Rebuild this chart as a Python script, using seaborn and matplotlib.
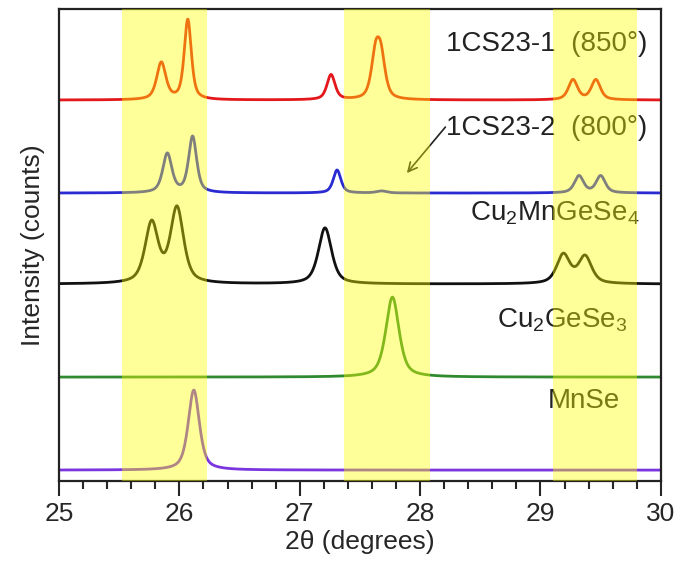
import numpy as np
import pandas as pd
import matplotlib
matplotlib.use("Agg")
import matplotlib.pyplot as plt
import seaborn as sns

# Peak lists (2-theta position, height above baseline, FWHM) for each pattern
cs1_pos = [25.85, 26.07, 27.26, 27.63, 27.675, 29.27, 29.46]
cs1_height = [37, 80, 25, 41, 38, 20, 20]
cs1_fwhm = [0.09, 0.07, 0.08, 0.085, 0.085, 0.09, 0.09]

cs2_pos = [25.90, 26.11, 27.31, 27.68, 29.32, 29.50]
cs2_height = [39, 56, 23, 2, 17, 17]
cs2_fwhm = [0.09, 0.08, 0.075, 0.10, 0.09, 0.09]

cmgs_pos = [25.77, 25.98, 27.21, 29.19, 29.37]
cmgs_height = [60, 75, 56, 29, 27]
cmgs_fwhm = [0.13, 0.13, 0.13, 0.13, 0.13]

cgs_pos = [27.77]
cgs_height = [80]
cgs_fwhm = [0.13]

mnse_pos = [26.12]
mnse_height = [80]
mnse_fwhm = [0.11]

# Vertical offsets of the stacked patterns
offsets = [381, 288, 197, 104, 11]
names = ["1CS23-1", "1CS23-2", "Cu2MnGeSe4", "Cu2GeSe3", "MnSe"]
colors = ["#e3171c", "#2a2ad2", "#111111", "#2f8a2f", "#7b35e0"]

# Shaded 2-theta windows
bands = [(25.52, 26.23), (27.37, 28.08), (29.10, 29.80)]

x_min, x_max = 25.0, 30.0
two_theta = np.linspace(x_min, x_max, 2501)


def pattern(pos, height, fwhm, eta=0.6):
    y = np.zeros_like(two_theta)
    for p, h, w in zip(pos, height, fwhm):
        g = np.exp(-4 * np.log(2) * ((two_theta - p) / w) ** 2)
        l = 1.0 / (1.0 + 4 * ((two_theta - p) / w) ** 2)
        y += h * (eta * l + (1 - eta) * g)
    return y


peak_sets = [
    (cs1_pos, cs1_height, cs1_fwhm),
    (cs2_pos, cs2_height, cs2_fwhm),
    (cmgs_pos, cmgs_height, cmgs_fwhm),
    (cgs_pos, cgs_height, cgs_fwhm),
    (mnse_pos, mnse_height, mnse_fwhm),
]

frames = []
for name, off, (p, h, w) in zip(names, offsets, peak_sets):
    frames.append(pd.DataFrame({"two_theta": two_theta,
                                "intensity": off + pattern(p, h, w),
                                "sample": name}))
df = pd.concat(frames, ignore_index=True)

sns.set_style("ticks")
plt.rcParams["font.family"] = ["Liberation Sans", "DejaVu Sans"]
plt.rcParams["mathtext.fontset"] = "custom"
plt.rcParams["mathtext.rm"] = "Liberation Sans"
plt.rcParams["mathtext.it"] = "Liberation Sans"

fig = plt.figure(figsize=(6.82, 5.66), dpi=100)
ax = fig.add_axes([0.0865, 0.150, 0.8825, 0.834])

sns.lineplot(data=df, x="two_theta", y="intensity", hue="sample",
             palette=dict(zip(names, colors)), hue_order=names,
             linewidth=2.0, legend=False, ax=ax, sort=False,
             estimator=None)

for lo, hi in bands:
    ax.axvspan(lo, hi, color="#ffff00", alpha=0.4, lw=0, zorder=10)

ax.set_xlim(x_min, x_max)
ax.set_ylim(0, 472)
ax.set_yticks([])
ax.set_xticks(np.arange(25, 30.01, 1))
ax.set_xticks(np.arange(25, 30.01, 0.2), minor=True)
ax.tick_params(axis="x", which="major", direction="out", length=11,
               width=1.5, labelsize=19, pad=4)
ax.tick_params(axis="x", which="minor", direction="out", length=6,
               width=1.5)
for s in ax.spines.values():
    s.set_linewidth(1.6)
    s.set_color("#222222")

ax.set_xlabel("2\u03b8 (degrees)", fontsize=19, labelpad=3)
ax.set_ylabel("Intensity (counts)", fontsize=19, labelpad=10)

label_kw = dict(fontsize=20, color="#222222", ha="right", va="center",
                zorder=3)
ax.text(29.89, 437, "1CS23-1  (850\u00b0)", **label_kw)
ax.text(29.89, 353, "1CS23-2  (800\u00b0)", **label_kw)
ax.text(29.82, 268, "Cu$_2$MnGeSe$_4$", **label_kw)
ax.text(29.72, 161, "Cu$_2$GeSe$_3$", **label_kw)
ax.text(29.66, 80, "MnSe", **label_kw)

ax.annotate("", xy=(27.89, 308), xytext=(28.21, 354),
            arrowprops=dict(arrowstyle="->", color="#222222", lw=1.2,
                            mutation_scale=16, shrinkA=0, shrinkB=0),
            zorder=3)

fig.savefig("out.png", dpi=100)
